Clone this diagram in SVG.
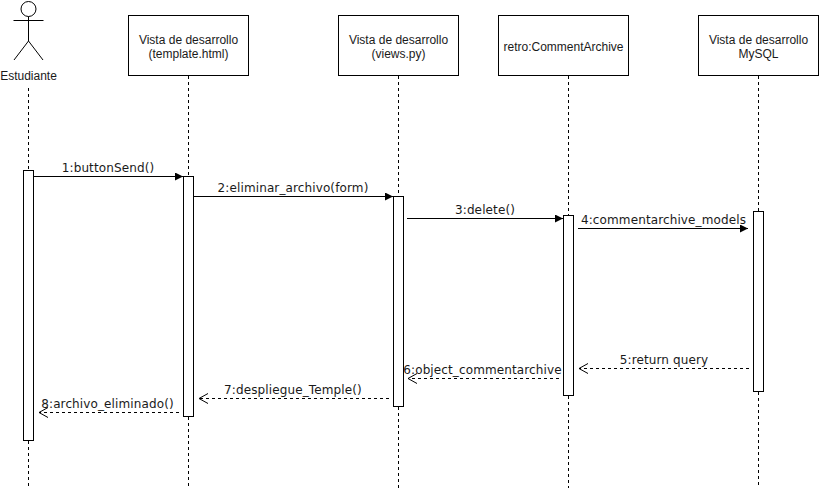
<svg xmlns="http://www.w3.org/2000/svg" width="819" height="490" viewBox="0 0 819 490">
<style>
.s{fill:none;stroke:#000;stroke-width:1}
.box{fill:#fff;stroke:#000;stroke-width:1}
.life{fill:none;stroke:#000;stroke-width:1;stroke-dasharray:3 3}
.msg{fill:none;stroke:#000;stroke-width:1;marker-end:url(#solid)}
.ret{fill:none;stroke:#000;stroke-width:1;stroke-dasharray:3 3;marker-end:url(#open)}
.n{font-family:"Liberation Sans",Arial,sans-serif;font-size:12px;fill:#1a1a1a;text-anchor:middle}
.m{font-family:"DejaVu Sans",Verdana,sans-serif;font-size:12px;letter-spacing:.12px;fill:#1a1a1a;text-anchor:middle}
</style>
<defs>
<marker id="solid" markerUnits="userSpaceOnUse" markerWidth="10" markerHeight="10" refX="8" refY="4" orient="auto"><path d="M0 0L8 4L0 8Z" fill="#000"/></marker>
<marker id="open" markerUnits="userSpaceOnUse" markerWidth="12" markerHeight="12" refX="10" refY="5" orient="auto"><path d="M1 0L10 5L1 10" fill="none" stroke="#000"/></marker>
</defs>
<rect width="819" height="490" fill="#fff"/>
<g id="lifelines">
<path class="life" d="M28.500 88V170M28.500 441V488"/>
<path class="life" d="M188.500 76V176M188.500 417V488"/>
<path class="life" d="M398.500 76V196M398.500 407V488"/>
<path class="life" d="M568.500 76V215M568.500 396V488"/>
<path class="life" d="M758.500 76V211M758.500 392V488"/>
</g>
<g id="actor">
<circle class="s" cx="28.500" cy="9" r="7.500"/>
<path class="s" d="M28.500 16.500V41M13.500 20.500H43.500M28.500 41L14 60M28.500 41L43 60"/>
<text class="n" x="28.500" y="80">Estudiante</text>
<rect class="box" x="23.500" y="170.500" width="10" height="270"/>
</g>
<g id="template">
<rect class="box" x="128.500" y="15.500" width="120" height="60"/>
<text class="n" x="188.500" y="44">Vista de desarrollo</text>
<text class="n" x="188.500" y="58">(template.html)</text>
<rect class="box" x="183.500" y="176.500" width="10" height="240"/>
</g>
<g id="views">
<rect class="box" x="338.500" y="15.500" width="120" height="60"/>
<text class="n" x="398.500" y="44">Vista de desarrollo</text>
<text class="n" x="398.500" y="58">(views.py)</text>
<rect class="box" x="393.500" y="196.500" width="10" height="210"/>
</g>
<g id="archive">
<rect class="box" x="498.500" y="15.500" width="130" height="60"/>
<text class="n" x="563.500" y="51">retro:CommentArchive</text>
<rect class="box" x="563.500" y="215.500" width="10" height="180"/>
</g>
<g id="mysql">
<rect class="box" x="698.500" y="15.500" width="120" height="60"/>
<text class="n" x="758.500" y="44">Vista de desarrollo</text>
<text class="n" x="758.500" y="58">MySQL</text>
<rect class="box" x="753.500" y="211.500" width="10" height="180"/>
</g>
<g id="connectors">
<path class="msg" d="M34 176.500H183"/>
<path class="msg" d="M194 196.500H393"/>
<path class="msg" d="M407 218.500H563"/>
<path class="msg" d="M578 228.500H748"/>
<path class="ret" d="M749 368.500H579"/>
<path class="ret" d="M559 378.500H408"/>
<path class="ret" d="M389 398.500H199"/>
<path class="ret" d="M179 412.500H39"/>
</g>
<g id="labels">
<text class="m" x="108" y="172">1:buttonSend()</text>
<text class="m" x="293" y="192">2:eliminar_archivo(form)</text>
<text class="m" x="485" y="214">3:delete()</text>
<text class="m" x="663.500" y="224">4:commentarchive_models</text>
<text class="m" x="664" y="364">5:return query</text>
<text class="m" x="482.500" y="374">6:object_commentarchive</text>
<text class="m" x="293" y="394">7:despliegue_Temple()</text>
<text class="m" x="107.500" y="408">8:archivo_eliminado()</text>
</g>
</svg>
